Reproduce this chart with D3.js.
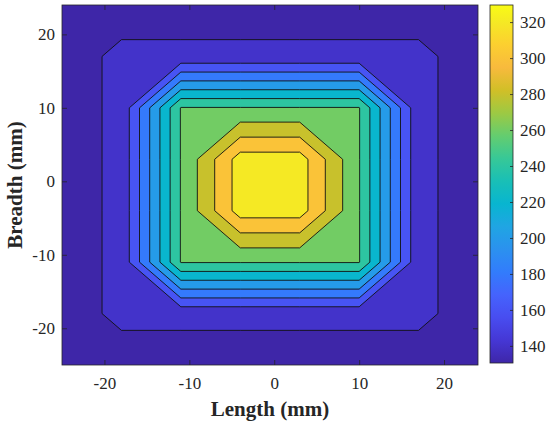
<!doctype html>
<html>

<head>
    <meta charset="utf-8">
    <title>Temperature contour</title>
    <style>
        body { margin: 0; background: #fff; }
        text { font-family: "Liberation Serif", "Times New Roman", serif; fill: #262626; }
    </style>
</head>

<body>
    <script src="https://d3js.org/d3.v7.min.js"></script>
    <script>
        // grid nodes (mm)
        var xs = [-25, -18, -11, -4, 3, 10, 17, 24];
        var ys = [24, 17, 10, 3, -4, -11, -18, -25];

        // node values, one row per ys entry (top row first)
        var row24 = [130.5, 130.5, 130.5, 130.5, 130.5, 130.5, 130.5, 130.5];
        var row17 = [130.5, 144.6, 144.6, 144.6, 144.6, 144.6, 144.6, 130.5];
        var row10 = [130.5, 144.6, 261, 261, 261, 261, 144.6, 130.5];
        var row3 = [130.5, 144.6, 261, 329.5, 329.5, 261, 144.6, 130.5];
        var rowM4 = [130.5, 144.6, 261, 329.5, 329.5, 261, 144.6, 130.5];
        var rowM11 = [130.5, 144.6, 261, 261, 261, 261, 144.6, 130.5];
        var rowM18 = [130.5, 144.6, 144.6, 144.6, 144.6, 144.6, 144.6, 130.5];
        var rowM25 = [130.5, 130.5, 130.5, 130.5, 130.5, 130.5, 130.5, 130.5];

        var levels = [140, 160, 180, 200, 220, 240, 260, 280, 300, 320];
        var axisTicks = [-20, -10, 0, 10, 20];
        var barTicks = [140, 160, 180, 200, 220, 240, 260, 280, 300, 320];

        // parula
        var parula = ["#3e26a8", "#4537d5", "#484df0", "#4563fd", "#327cfc", "#2b91ef", "#20a5e3", "#08b5d0",
            "#19bfb6", "#37c897", "#64cd6f", "#9dc943", "#d1bf27", "#f8ba3d", "#fccf30", "#f5e924", "#f9fb15"];
        var parulaPos = [0, 4, 8, 12, 16, 20, 24, 28, 32, 36, 40, 44, 48, 52, 56, 60, 63].map(function (d) { return d / 63; });

        var rows = [row24, row17, row10, row3, rowM4, rowM11, rowM18, rowM25];
        var values = [].concat.apply([], rows);
        var vmin = d3.min(values), vmax = d3.max(values);

        var w = 550, h = 425;
        var pLeft = 62, pRight = 478, pTop = 5, pBottom = 365;

        var x = d3.scaleLinear().domain([-25, 24]).range([pLeft, pRight]);
        var y = d3.scaleLinear().domain([-25, 24]).range([pBottom, pTop]);

        var cmap = d3.scaleLinear().domain(parulaPos).range(parula).interpolate(d3.interpolateRgb);
        var color = function (v) { return cmap((v - vmin) / (vmax - vmin)); };
        var plain = function (d) { return String(d); };

        var svg = d3.select("body").append("svg")
            .attr("width", w)
            .attr("height", h);

        svg.append("clipPath").attr("id", "plotclip")
            .append("rect")
            .attr("x", pLeft).attr("y", pTop)
            .attr("width", pRight - pLeft).attr("height", pBottom - pTop);

        // contour polygons come in grid units, node i sits at i + 0.5
        var step = xs[1] - xs[0];
        var toScreen = d3.geoTransform({
            point: function (a, b) {
                this.stream.point(x(xs[0] + (a - 0.5) * step), y(ys[0] - (b - 0.5) * step));
            }
        });
        var path = d3.geoPath(toScreen);

        var contours = d3.contours()
            .size([xs.length, ys.length])
            .thresholds(levels)(values);

        var plot = svg.append("g").attr("clip-path", "url(#plotclip)");

        plot.append("rect")
            .attr("x", pLeft).attr("y", pTop)
            .attr("width", pRight - pLeft).attr("height", pBottom - pTop)
            .style("fill", color(vmin));

        plot.selectAll("path")
            .data(contours)
            .enter()
            .append("path")
            .attr("d", path)
            .style("fill", function (d) { return color(d.value); })
            .style("stroke", "#111")
            .style("stroke-width", 0.9)
            .style("stroke-linejoin", "round");

        // axes with inward ticks on all sides
        function styleAxis(g) {
            g.select(".domain").remove();
            g.selectAll(".tick line").attr("stroke", "#262626").attr("stroke-width", 0.8);
            g.selectAll(".tick text").style("font-size", "17px").attr("fill", "#262626");
        }

        svg.append("g")
            .attr("transform", "translate(0," + pBottom + ")")
            .call(d3.axisBottom(x).tickValues(axisTicks).tickFormat(plain).tickSizeInner(-5).tickSizeOuter(0).tickPadding(12))
            .call(styleAxis);
        svg.append("g")
            .attr("transform", "translate(0," + pTop + ")")
            .call(d3.axisTop(x).tickValues(axisTicks).tickSizeInner(-5).tickSizeOuter(0).tickFormat(""))
            .call(styleAxis);
        svg.append("g")
            .attr("transform", "translate(" + pLeft + ",0)")
            .call(d3.axisLeft(y).tickValues(axisTicks).tickFormat(plain).tickSizeInner(-5).tickSizeOuter(0).tickPadding(7))
            .call(styleAxis);
        svg.append("g")
            .attr("transform", "translate(" + pRight + ",0)")
            .call(d3.axisRight(y).tickValues(axisTicks).tickSizeInner(-5).tickSizeOuter(0).tickFormat(""))
            .call(styleAxis);

        svg.append("rect")
            .attr("x", pLeft).attr("y", pTop)
            .attr("width", pRight - pLeft).attr("height", pBottom - pTop)
            .style("fill", "none")
            .style("stroke", "#262626")
            .style("stroke-width", 0.8);

        svg.append("text")
            .attr("x", (pLeft + pRight) / 2)
            .attr("y", 416)
            .attr("text-anchor", "middle")
            .style("font-size", "21px")
            .style("font-weight", "bold")
            .text("Length (mm)");

        svg.append("text")
            .attr("transform", "translate(22," + (pTop + pBottom) / 2 + ") rotate(-90)")
            .attr("text-anchor", "middle")
            .style("font-size", "21px")
            .style("font-weight", "bold")
            .text("Breadth (mm)");

        // colorbar
        var cbLeft = 490, cbRight = 513, cbTop = 5, cbBottom = 363;
        var cb = d3.scaleLinear().domain([vmin, vmax]).range([cbBottom, cbTop]);

        var grad = svg.append("defs").append("linearGradient")
            .attr("id", "parulaGrad")
            .attr("x1", 0).attr("y1", 1).attr("x2", 0).attr("y2", 0);
        grad.selectAll("stop")
            .data(parulaPos)
            .enter()
            .append("stop")
            .attr("offset", function (d) { return d; })
            .attr("stop-color", function (d, i) { return parula[i]; });

        svg.append("rect")
            .attr("x", cbLeft).attr("y", cbTop)
            .attr("width", cbRight - cbLeft).attr("height", cbBottom - cbTop)
            .style("fill", "url(#parulaGrad)")
            .style("stroke", "#262626")
            .style("stroke-width", 0.8);

        svg.append("g")
            .attr("transform", "translate(" + cbRight + ",0)")
            .call(d3.axisRight(cb).tickValues(barTicks).tickFormat(plain).tickSizeInner(-3).tickSizeOuter(0).tickPadding(7))
            .call(styleAxis);
    </script>
</body>

</html>
